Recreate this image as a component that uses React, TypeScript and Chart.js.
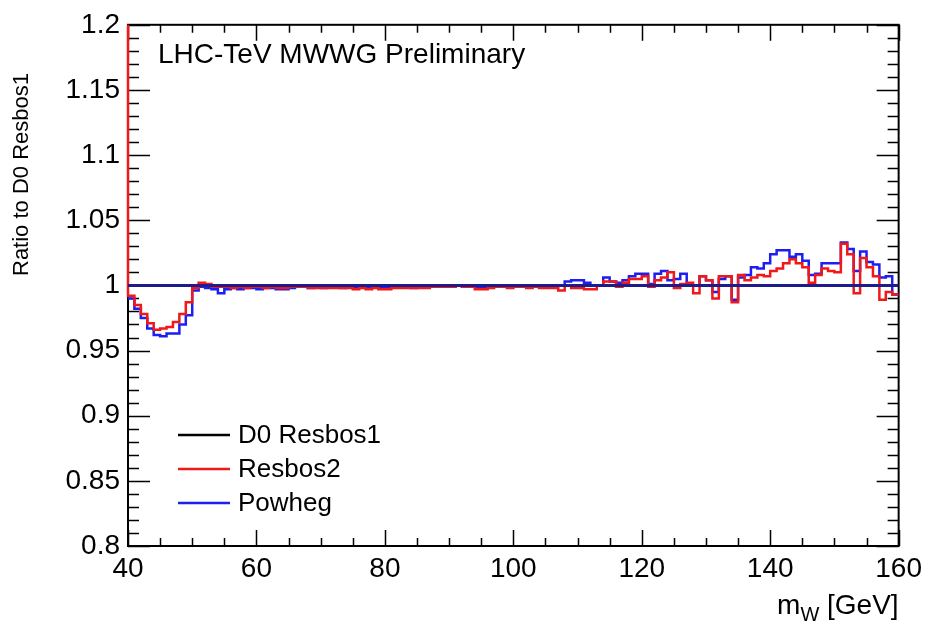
import React, { useEffect, useRef } from "react";
import { Chart, registerables } from "chart.js";

Chart.register(...registerables);

// Histogram binning (GeV)
const X_MIN = 40;
const X_MAX = 160;
const BIN_WIDTH = 1;
const Y_MIN = 0.8;
const Y_MAX = 1.2;

const xTickLabels = ["40", "60", "80", "100", "120", "140", "160"];
const yTickLabels = ["0.8", "0.85", "0.9", "0.95", "1", "1.05", "1.1", "1.15", "1.2"];

// Ratio of each generator to D0 Resbos1, one value per 1 GeV bin from 40 to 160 GeV
const d0Resbos1 = [
  1, 1, 1, 1, 1, 1, 1, 1, 1, 1, 1, 1, 1, 1, 1, 1, 1, 1, 1, 1,
  1, 1, 1, 1, 1, 1, 1, 1, 1, 1, 1, 1, 1, 1, 1, 1, 1, 1, 1, 1,
  1, 1, 1, 1, 1, 1, 1, 1, 1, 1, 1, 1, 1, 1, 1, 1, 1, 1, 1, 1,
  1, 1, 1, 1, 1, 1, 1, 1, 1, 1, 1, 1, 1, 1, 1, 1, 1, 1, 1, 1,
  1, 1, 1, 1, 1, 1, 1, 1, 1, 1, 1, 1, 1, 1, 1, 1, 1, 1, 1, 1,
  1, 1, 1, 1, 1, 1, 1, 1, 1, 1, 1, 1, 1, 1, 1, 1, 1, 1, 1, 1,
];

// bin just below 40 GeV, off the top of the scale (gives the red edge at x = 40)
const resbos2Underflow = 1.3;

const resbos2 = [
  // 40-59
  0.992, 0.985, 0.978, 0.971, 0.966, 0.967, 0.968, 0.972, 0.978, 0.987,
  0.998, 1.002, 1.001, 0.999, 0.999, 0.999, 0.998, 0.999, 0.998, 0.999,
  // 60-79
  0.999, 0.998, 0.999, 0.998, 0.998, 0.999, 0.999, 0.999, 0.998, 0.998,
  0.998, 0.998, 0.998, 0.998, 0.998, 0.997, 0.998, 0.997, 0.998, 0.997,
  // 80-99
  0.997, 0.998, 0.998, 0.998, 0.998, 0.998, 0.998, 0.999, 0.999, 0.999,
  0.999, 1.0, 0.999, 0.999, 0.997, 0.997, 0.998, 0.999, 0.999, 0.998,
  // 100-119
  0.999, 0.999, 0.998, 0.999, 0.998, 0.998, 0.998, 0.996, 1.0, 0.998,
  0.998, 0.997, 0.997, 1.0, 1.003, 1.003, 0.999, 1.002, 1.005, 1.005,
  // 120-139
  1.007, 0.999, 1.004, 1.006, 1.01, 0.998, 1.001, 1.002, 0.994, 1.007,
  1.004, 0.99, 1.007, 1.007, 0.987, 1.008, 1.004, 1.006, 1.008, 1.007,
  // 140-159
  1.011, 1.013, 1.017, 1.02, 1.017, 1.014, 1.002, 1.008, 1.013, 1.011,
  1.01, 1.032, 1.024, 0.994, 1.021, 1.014, 1.007, 0.989, 0.995, 0.993,
];

const powheg = [
  // 40-59
  0.99, 0.982, 0.975, 0.967, 0.962, 0.961, 0.963, 0.963, 0.97, 0.977,
  0.996, 0.999, 0.998, 0.997, 0.994, 0.997, 0.998, 0.997, 0.998, 0.998,
  // 60-79
  0.997, 0.998, 0.998, 0.997, 0.997, 0.998, 0.999, 0.999, 0.998, 0.999,
  0.998, 0.999, 0.999, 0.998, 0.999, 0.998, 0.999, 0.998, 0.999, 0.998,
  // 80-99
  0.998, 0.999, 0.999, 0.999, 0.998, 0.999, 0.999, 0.999, 0.999, 1.0,
  0.999, 1.0, 0.999, 1.0, 0.999, 0.999, 1.0, 1.0, 0.999, 1.0,
  // 100-119
  1.0, 1.0, 0.999, 1.0, 1.0, 0.999, 1.0, 1.0, 1.003, 1.004,
  1.004, 1.002, 1.0, 1.0, 1.006, 1.003, 1.002, 1.004, 1.007, 1.009,
  // 120-139
  1.009, 1.001, 1.009, 1.011, 1.004, 1.005, 1.009, 1.0, 1.0, 1.007,
  1.004, 0.995, 1.005, 1.007, 0.989, 1.006, 1.008, 1.014, 1.013, 1.017,
  // 140-159
  1.024, 1.027, 1.027, 1.022, 1.024, 1.019, 1.008, 1.009, 1.017, 1.017,
  1.017, 1.033, 1.028, 1.011, 1.026, 1.018, 1.016, 1.006, 1.007, 0.993,
];

const seriesNames = ["D0 Resbos1", "Resbos2", "Powheg"];
const seriesColors = ["#000000", "#f01818", "#1e1ef0"];
const referenceColor = "#1c1c8c";

const FONT = "'Liberation Sans', Arial, Helvetica, sans-serif";

function stepPoints(values: number[], underflow?: number) {
  const pts: { x: number; y: number }[] = [];
  if (underflow !== undefined) {
    pts.push({ x: X_MIN - BIN_WIDTH, y: underflow });
    pts.push({ x: X_MIN, y: underflow });
  }
  values.forEach((v, i) => {
    const x0 = X_MIN + i * BIN_WIDTH;
    pts.push({ x: x0, y: v });
    pts.push({ x: x0 + BIN_WIDTH, y: v });
  });
  return pts;
}

const framePlugin = {
  id: "rootFrame",
  beforeDatasetsDraw(chart: any) {
    const { ctx, chartArea: a, scales } = chart;
    const xs = scales.x;
    const ys = scales.y;
    ctx.save();
    ctx.strokeStyle = "#000";
    ctx.lineWidth = 1.5;
    ctx.beginPath();
    // x ticks: minor every 5 GeV, major every 20 GeV
    for (let v = X_MIN; v <= X_MAX; v += 5) {
      const px = Math.round(xs.getPixelForValue(v)) + 0.5;
      const len = v % 20 === 0 ? 16 : 8;
      ctx.moveTo(px, a.bottom);
      ctx.lineTo(px, a.bottom - len);
      ctx.moveTo(px, a.top);
      ctx.lineTo(px, a.top + len);
    }
    // y ticks: minor every 0.01, major every 0.05
    for (let k = 80; k <= 120; k++) {
      const py = Math.round(ys.getPixelForValue(k / 100)) + 0.5;
      const len = k % 5 === 0 ? 22 : 11;
      ctx.moveTo(a.left, py);
      ctx.lineTo(a.left + len, py);
      ctx.moveTo(a.right, py);
      ctx.lineTo(a.right - len, py);
    }
    ctx.stroke();
    ctx.lineWidth = 2;
    ctx.strokeRect(a.left, a.top, a.right - a.left, a.bottom - a.top);
    ctx.restore();
  },
  afterDraw(chart: any) {
    const { ctx, chartArea: a } = chart;
    ctx.save();
    ctx.fillStyle = "#000";
    ctx.textBaseline = "alphabetic";
    // Label in the plot
    ctx.font = `28px ${FONT}`;
    ctx.textAlign = "left";
    ctx.fillText("LHC-TeV MWWG Preliminary", 158, 63);

    // Legend
    const ly = [435, 469, 503];
    seriesNames.forEach((name, i) => {
      ctx.strokeStyle = seriesColors[i];
      ctx.lineWidth = 2.5;
      ctx.beginPath();
      ctx.moveTo(178, ly[i]);
      ctx.lineTo(230, ly[i]);
      ctx.stroke();
      ctx.font = `26px ${FONT}`;
      ctx.textBaseline = "middle";
      ctx.fillText(name, 238, ly[i] + 1);
    });

    // Y axis title (aligned to top end)
    ctx.save();
    ctx.translate(28, 276);
    ctx.rotate(-Math.PI / 2);
    ctx.textBaseline = "alphabetic";
    ctx.textAlign = "left";
    ctx.font = `22px ${FONT}`;
    ctx.fillText("Ratio to D0 Resbos1", 0, 0);
    ctx.restore();

    // X axis title m_W [GeV], right aligned
    ctx.textBaseline = "alphabetic";
    ctx.textAlign = "left";
    const mainFont = `28px ${FONT}`;
    const subFont = `20px ${FONT}`;
    ctx.font = mainFont;
    const wM = ctx.measureText("m").width;
    const wRest = ctx.measureText(" [GeV]").width;
    ctx.font = subFont;
    const wW = ctx.measureText("W").width;
    const right = a.right;
    const base = 614;
    let x = right - (wM + wW + wRest);
    ctx.font = mainFont;
    ctx.fillText("m", x, base);
    x += wM;
    ctx.font = subFont;
    ctx.fillText("W", x, base + 7);
    x += wW;
    ctx.font = mainFont;
    ctx.fillText(" [GeV]", x, base);
    ctx.restore();
  },
};

export default function App() {
  const ref = useRef<HTMLCanvasElement | null>(null);
  useEffect(() => {
    if (!ref.current) return;
    const chart = new Chart(ref.current, {
      type: "line",
      data: {
        datasets: [
          {
            label: "reference",
            data: [
              { x: X_MIN, y: 1 },
              { x: X_MAX, y: 1 },
            ],
            borderColor: referenceColor,
            borderWidth: 3,
            pointRadius: 0,
          },
          {
            label: seriesNames[1],
            data: stepPoints(resbos2, resbos2Underflow),
            borderColor: seriesColors[1],
            borderWidth: 2.5,
            pointRadius: 0,
            clip: { left: 3, top: 0, right: 0, bottom: 0 },
          },
          {
            label: seriesNames[2],
            data: stepPoints(powheg),
            borderColor: seriesColors[2],
            borderWidth: 2.5,
            pointRadius: 0,
          },
          {
            label: seriesNames[0],
            data: stepPoints(d0Resbos1),
            borderColor: seriesColors[0],
            borderWidth: 2,
            pointRadius: 0,
          },
        ],
      },
      options: {
        animation: false,
        responsive: false,
        devicePixelRatio: 1,
        events: [],
        elements: {
          line: { tension: 0, borderJoinStyle: "miter", borderCapStyle: "butt", fill: false },
        },
        layout: { padding: { top: 17, right: 25, left: 0, bottom: 0 } },
        plugins: { legend: { display: false }, tooltip: { enabled: false } },
        scales: {
          x: {
            type: "linear",
            min: X_MIN,
            max: X_MAX,
            grid: { display: false, drawTicks: false },
            border: { display: false },
            afterFit: (s: any) => {
              s.height = 81;
            },
            afterBuildTicks: (s: any) => {
              s.ticks = xTickLabels.map((t) => ({ value: Number(t) }));
            },
            ticks: {
              color: "#000",
              font: { family: FONT, size: 28 },
              padding: 6,
              maxRotation: 0,
              callback: (v: any) => {
                const lbl = xTickLabels.find((t) => Number(t) === Number(v));
                return lbl ?? "";
              },
            },
          },
          y: {
            type: "linear",
            min: Y_MIN,
            max: Y_MAX,
            grid: { display: false, drawTicks: false },
            border: { display: false },
            afterFit: (s: any) => {
              s.width = 128;
            },
            afterBuildTicks: (s: any) => {
              s.ticks = yTickLabels.map((t) => ({ value: Number(t) }));
            },
            ticks: {
              color: "#000",
              font: { family: FONT, size: 28 },
              padding: 8,
              callback: (v: any) => {
                const lbl = yTickLabels.find((t) => Math.abs(Number(t) - Number(v)) < 1e-6);
                return lbl ?? "";
              },
            },
          },
        },
      },
      plugins: [framePlugin],
    } as any);
    return () => chart.destroy();
  }, []);

  return (
    <div style={{ position: "absolute", left: 0, top: 0, width: 928, height: 627, background: "#fff" }}>
      <canvas ref={ref} width={928} height={627} style={{ width: 928, height: 627, display: "block" }} />
    </div>
  );
}
